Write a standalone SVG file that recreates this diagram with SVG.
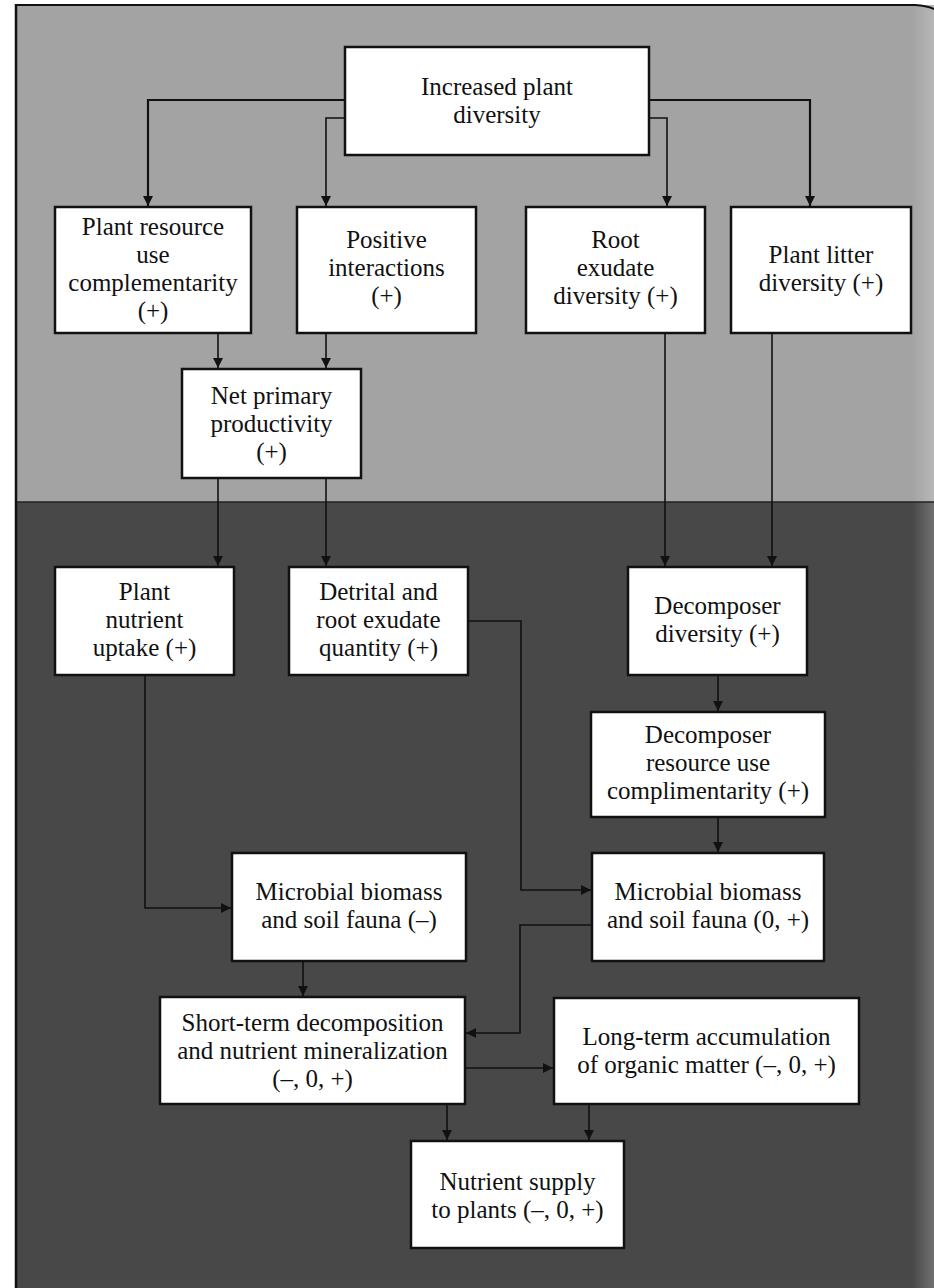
<svg xmlns="http://www.w3.org/2000/svg" width="934" height="1288" viewBox="0 0 934 1288">
<defs>
<style>
.box{fill:#fff;stroke:#111;stroke-width:2.5}
.t{font-family:"Liberation Serif","Times New Roman",serif;font-size:25px;fill:#111;text-anchor:middle}
.c{fill:none;stroke:#111;stroke-width:1.6}
.cw{fill:none;stroke:#111;stroke-width:2.2}
</style>
<marker id="ah" markerUnits="userSpaceOnUse" markerWidth="10" markerHeight="12" refX="10" refY="5" orient="auto">
<path d="M0,0 L10,5 L0,10 z" fill="#111"/>
</marker>
<linearGradient id="edge" x1="0" y1="0" x2="1" y2="0">
<stop offset="0" stop-color="#fff" stop-opacity="0"/>
<stop offset="1" stop-color="#fff" stop-opacity="0.22"/>
</linearGradient>
</defs>
<g id="background">
<rect x="0" y="0" width="934" height="1288" fill="#fff"/>
<rect x="16" y="5" width="918" height="497" fill="#a3a3a3"/>
<rect x="16" y="502" width="918" height="786" fill="#484848"/>
<rect x="912" y="5" width="22" height="1283" fill="url(#edge)"/>
<line x1="16" y1="502" x2="934" y2="502" stroke="#222" stroke-width="1.5"/>
<line x1="16" y1="4" x2="16" y2="1288" stroke="#111" stroke-width="2.5"/>
<path d="M16,5 H915 Q928,6 934,9" fill="none" stroke="#111" stroke-width="2"/>
</g>
<g id="connectors">
<path class="cw" d="M345,100 H148 V206" marker-end="url(#ah)"/>
<path class="c" d="M345,118 H326 V206" marker-end="url(#ah)"/>
<path class="c" d="M649,118 H667 V206" marker-end="url(#ah)"/>
<path class="cw" d="M649,100 H810 V206" marker-end="url(#ah)"/>
<path class="c" d="M218,333 V368" marker-end="url(#ah)"/>
<path class="c" d="M326,333 V368" marker-end="url(#ah)"/>
<path class="c" d="M218,478 V566" marker-end="url(#ah)"/>
<path class="c" d="M326,478 V566" marker-end="url(#ah)"/>
<path class="c" d="M665,333 V566" marker-end="url(#ah)"/>
<path class="c" d="M772,333 V566" marker-end="url(#ah)"/>
<path class="c" d="M468,621 H521 V890 H591" marker-end="url(#ah)"/>
<path class="c" d="M145,675 V908 H231" marker-end="url(#ah)"/>
<path class="c" d="M718,675 V711" marker-end="url(#ah)"/>
<path class="c" d="M718,817 V852" marker-end="url(#ah)"/>
<path class="c" d="M592,925 H520 V1033 H466" marker-end="url(#ah)"/>
<path class="c" d="M303,961 V996" marker-end="url(#ah)"/>
<path class="c" d="M465,1068 H553" marker-end="url(#ah)"/>
<path class="c" d="M447,1104 V1140" marker-end="url(#ah)"/>
<path class="c" d="M589,1104 V1140" marker-end="url(#ah)"/>
</g>
<g id="n-increased">
<rect class="box" x="345" y="47" width="304" height="108"/>
<text class="t" x="497" y="95">Increased plant</text>
<text class="t" x="497" y="123">diversity</text>
</g>
<g id="n-resource">
<rect class="box" x="55" y="207" width="196" height="126"/>
<text class="t" x="153" y="235">Plant resource</text>
<text class="t" x="153" y="263">use</text>
<text class="t" x="153" y="291">complementarity</text>
<text class="t" x="153" y="319">(+)</text>
</g>
<g id="n-positive">
<rect class="box" x="297" y="207" width="179" height="126"/>
<text class="t" x="386.5" y="248">Positive</text>
<text class="t" x="386.5" y="276">interactions</text>
<text class="t" x="386.5" y="304">(+)</text>
</g>
<g id="n-root">
<rect class="box" x="526" y="207" width="179" height="126"/>
<text class="t" x="615.5" y="248">Root</text>
<text class="t" x="615.5" y="276">exudate</text>
<text class="t" x="615.5" y="304">diversity (+)</text>
</g>
<g id="n-litter">
<rect class="box" x="731" y="207" width="180" height="126"/>
<text class="t" x="821" y="263">Plant litter</text>
<text class="t" x="821" y="291">diversity (+)</text>
</g>
<g id="n-npp">
<rect class="box" x="182" y="369" width="179" height="109"/>
<text class="t" x="271.5" y="404">Net primary</text>
<text class="t" x="271.5" y="432">productivity</text>
<text class="t" x="271.5" y="460">(+)</text>
</g>
<g id="n-uptake">
<rect class="box" x="55" y="567" width="179" height="108"/>
<text class="t" x="144.5" y="600">Plant</text>
<text class="t" x="144.5" y="628">nutrient</text>
<text class="t" x="144.5" y="656">uptake (+)</text>
</g>
<g id="n-detrital">
<rect class="box" x="289" y="567" width="179" height="108"/>
<text class="t" x="378.5" y="600">Detrital and</text>
<text class="t" x="378.5" y="628">root exudate</text>
<text class="t" x="378.5" y="656">quantity (+)</text>
</g>
<g id="n-decomp-div">
<rect class="box" x="628" y="567" width="179" height="108"/>
<text class="t" x="717.5" y="614">Decomposer</text>
<text class="t" x="717.5" y="642">diversity (+)</text>
</g>
<g id="n-decomp-res">
<rect class="box" x="591" y="712" width="234" height="105"/>
<text class="t" x="708" y="743">Decomposer</text>
<text class="t" x="708" y="771">resource use</text>
<text class="t" x="708" y="799">complimentarity (+)</text>
</g>
<g id="n-microbial-neg">
<rect class="box" x="232" y="853" width="234" height="108"/>
<text class="t" x="349" y="900">Microbial biomass</text>
<text class="t" x="349" y="928">and soil fauna (–)</text>
</g>
<g id="n-microbial-pos">
<rect class="box" x="592" y="853" width="232" height="108"/>
<text class="t" x="708" y="900">Microbial biomass</text>
<text class="t" x="708" y="928">and soil fauna (0, +)</text>
</g>
<g id="n-short">
<rect class="box" x="160" y="997" width="305" height="107"/>
<text class="t" x="312.5" y="1031">Short-term decomposition</text>
<text class="t" x="312.5" y="1059">and nutrient mineralization</text>
<text class="t" x="312.5" y="1087">(–, 0, +)</text>
</g>
<g id="n-long">
<rect class="box" x="554" y="998" width="305" height="106"/>
<text class="t" x="706.5" y="1045">Long-term accumulation</text>
<text class="t" x="706.5" y="1073">of organic matter (–, 0, +)</text>
</g>
<g id="n-supply">
<rect class="box" x="411" y="1141" width="213" height="107"/>
<text class="t" x="517.5" y="1190">Nutrient supply</text>
<text class="t" x="517.5" y="1218">to plants (–, 0, +)</text>
</g>
</svg>
